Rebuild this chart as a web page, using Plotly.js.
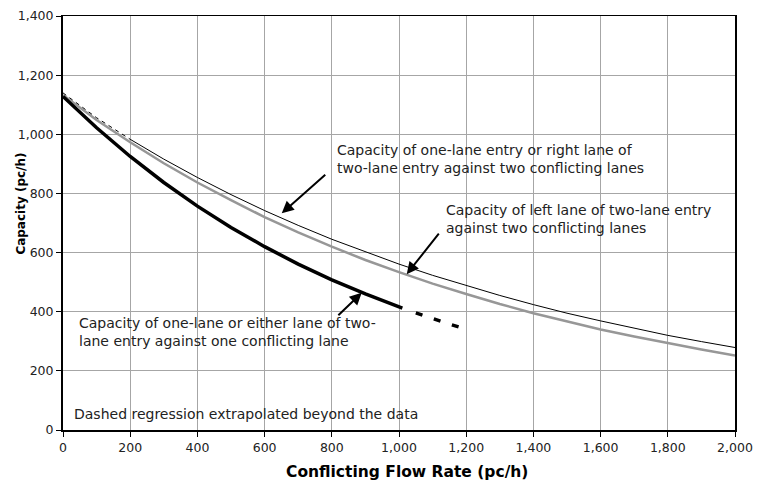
<!DOCTYPE html>
<html>
<head>
<meta charset="utf-8">
<script src="https://cdn.plot.ly/plotly-3.0.1.min.js"></script>
<style>html,body{margin:0;padding:0;background:#fff;}#chart{width:763px;height:486px;}</style>
</head>
<body>
<div id="chart"></div>
<script>
// Conflicting flow rate (pc/h)
var flowTwoLanes = [0, 100, 200, 300, 400, 500, 600, 700, 800, 900, 1000, 1100, 1200, 1300, 1400, 1500, 1600, 1700, 1800, 1900, 2000];
// One-lane entry or right lane of two-lane entry against two conflicting lanes
var capRightTwo = [1140, 1056, 983, 916, 854, 796, 742, 692, 645, 602, 561, 523, 488, 455, 424, 395, 369, 344, 320, 299, 279];
var dashedRightEnd = 200; // dashed part of the thin curve ends here
// Left lane of two-lane entry against two conflicting lanes
var capLeftTwo = [1133, 1048, 973, 902, 837, 777, 720, 668, 620, 575, 534, 495, 460, 426, 395, 367, 340, 316, 293, 272, 252];
// One-lane or either lane of two-lane entry against one conflicting lane
var flowOneLane = [0, 100, 200, 300, 400, 500, 600, 700, 800, 900, 1010];
var capOneLane = [1128, 1022, 925, 837, 757, 685, 620, 561, 508, 460, 412];
var flowOneLaneExt = [1050, 1100, 1150, 1200];
var capOneLaneExt = [396, 376, 358, 341];

var xTicks = [0, 200, 400, 600, 800, 1000, 1200, 1400, 1600, 1800, 2000];
var yTicks = [0, 200, 400, 600, 800, 1000, 1200, 1400];

var xTitle = "Conflicting Flow Rate (pc/h)";
var yTitle = "Capacity (pc/h)";
var label1 = "Capacity of one-lane entry or right lane of<br>two-lane entry against two conflicting lanes";
var label2 = "Capacity of left lane of two-lane entry<br>against two conflicting lanes";
var label3 = "Capacity of one-lane or either lane of two-<br>lane entry against one conflicting lane";
var note = "Dashed regression extrapolated beyond the data";

function split(xs, ys, cut) {
  var a = {x: [], y: []}, b = {x: [], y: []};
  for (var i = 0; i < xs.length; i++) {
    if (xs[i] <= cut) { a.x.push(xs[i]); a.y.push(ys[i]); }
    if (xs[i] >= cut) { b.x.push(xs[i]); b.y.push(ys[i]); }
  }
  return [a, b];
}
var thin = split(flowTwoLanes, capRightTwo, dashedRightEnd);

var traces = [
  {x: flowTwoLanes, y: capLeftTwo, mode: 'lines', line: {color: '#979797', width: 2.5}, hoverinfo: 'skip'},
  {x: thin[0].x, y: thin[0].y, mode: 'lines', line: {color: '#000', width: 1, dash: '4px,4px'}, hoverinfo: 'skip'},
  {x: thin[1].x, y: thin[1].y, mode: 'lines', line: {color: '#000', width: 1}, hoverinfo: 'skip'},
  {x: flowOneLane, y: capOneLane, mode: 'lines', line: {color: '#000', width: 3.5}, hoverinfo: 'skip'},
  {x: flowOneLaneExt, y: capOneLaneExt, mode: 'lines', line: {color: '#000', width: 3.5, dash: '7px,12px'}, hoverinfo: 'skip'}
];

var fam = 'DejaVu Sans, Verdana, sans-serif';
var txtFont = {family: fam, size: 14, color: '#222'};
function arrow(x, y, ax, ay) {
  return {x: x, y: y, ax: ax, ay: ay, xref: 'x', yref: 'y', axref: 'x', ayref: 'y',
    text: '', showarrow: true, arrowhead: 2, arrowsize: 1.2, arrowwidth: 2, arrowcolor: '#000'};
}

var layout = {
  width: 763, height: 486,
  margin: {l: 63, r: 28, t: 16, b: 56},
  paper_bgcolor: '#fff', plot_bgcolor: '#fff',
  showlegend: false,
  font: {family: fam, size: 12.5, color: '#222'},
  xaxis: {
    range: [0, 2000], tickvals: xTicks, tickformat: ',d', fixedrange: true,
    showgrid: true, gridcolor: '#a6a6a6', gridwidth: 1, zeroline: false,
    showline: true, linecolor: '#000', linewidth: 1.5, mirror: true,
    ticks: 'outside', ticklen: 5, tickcolor: '#000', tickwidth: 1
  },
  yaxis: {
    range: [0, 1400], tickvals: yTicks, tickformat: ',d', fixedrange: true,
    showgrid: true, gridcolor: '#a6a6a6', gridwidth: 1, zeroline: false,
    showline: true, linecolor: '#000', linewidth: 2, mirror: true,
    ticks: 'outside', ticklen: 5, tickcolor: '#000', tickwidth: 1
  },
  annotations: [
    {x: 809, y: 915, xref: 'x', yref: 'y', xanchor: 'left', yanchor: 'middle', align: 'left', showarrow: false, text: label1, font: txtFont},
    {x: 1134, y: 715, xref: 'x', yref: 'y', xanchor: 'left', yanchor: 'middle', align: 'left', showarrow: false, text: label2, font: txtFont},
    {x: 41, y: 331, xref: 'x', yref: 'y', xanchor: 'left', yanchor: 'middle', align: 'left', showarrow: false, text: label3, font: txtFont},
    {x: 26, y: 54, xref: 'x', yref: 'y', xanchor: 'left', yanchor: 'middle', align: 'left', showarrow: false, text: note, font: txtFont},
    {x: 1024, y: -0.101, xref: 'x', yref: 'paper', xanchor: 'center', yanchor: 'middle', showarrow: false,
      text: '<b>' + xTitle + '</b>', font: {family: fam, size: 15.5, color: '#000'}},
    {x: -0.063, y: 0.546, xref: 'paper', yref: 'paper', xanchor: 'center', yanchor: 'middle', showarrow: false, textangle: -90,
      text: '<b>' + yTitle + '</b>', font: {family: fam, size: 12, color: '#000'}},
    arrow(651, 733, 785, 868),
    arrow(1023, 527, 1122, 669),
    arrow(889, 464, 815, 383)
  ]
};

Plotly.newPlot('chart', traces, layout, {displayModeBar: false, staticPlot: true});
</script>
</body>
</html>
